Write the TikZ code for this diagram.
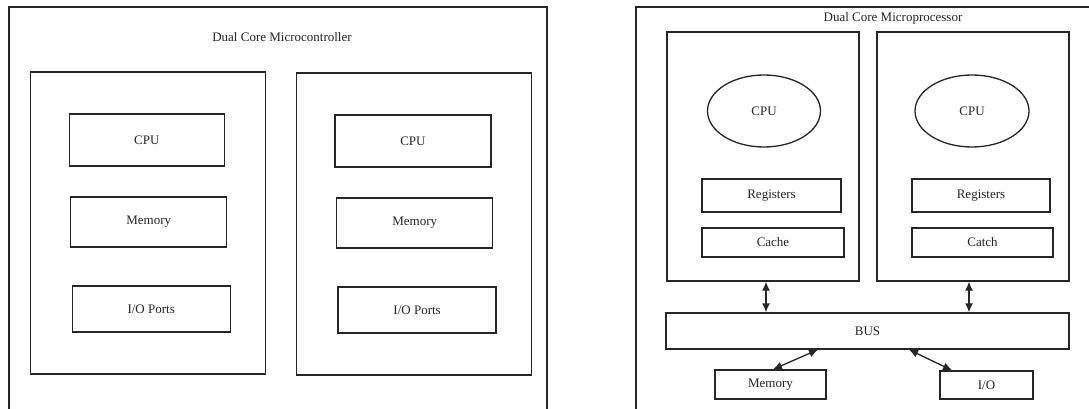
\documentclass[tikz,border=0pt]{standalone}
\usepackage{fontspec}
\setmainfont{Liberation Serif}
\usetikzlibrary{shapes.geometric,arrows.meta,calc}
\tikzset{
  ln/.style={draw=black!85, line width=1.3pt},
  box/.style={ln, rectangle, inner sep=0pt, font=\fontsize{13}{15}\selectfont, text=black!85},
  oval/.style={ln, ellipse, inner sep=0pt, font=\fontsize{13}{15}\selectfont, text=black!85},
  lbl/.style={inner sep=0pt, font=\fontsize{13}{15}\selectfont, text=black!85},
  arr/.style={ln, {Latex[length=9pt,width=8pt]}-{Latex[length=9pt,width=8pt]}},
}
\begin{document}
\begin{tikzpicture}[x=1pt,y=-1pt]
\useasboundingbox (0,0) rectangle (1089,409);
\fill[white] (0,0) rectangle (1089,409);
\clip (0,0) rectangle (1089,409);
% ---------- Left: Dual Core Microcontroller ----------
\node[box, minimum width=538pt, minimum height=420pt] (outerL) at (278,217) {};
\node[lbl] (titleL) at (282,37) {Dual Core Microcontroller};
\node[box, minimum width=235pt, minimum height=302pt] (coreL1) at (148,223) {};
\node[box, minimum width=235pt, minimum height=302pt] (coreL2) at (414.3,224) {};
\node[box, minimum width=155pt, minimum height=52pt] (cpuL1) at (146.8,140) {CPU};
\node[box, minimum width=156pt, minimum height=52pt] (cpuL2) at (412.9,141) {CPU};
\node[box, minimum width=156pt, minimum height=50pt] (memL1) at (148.7,222) {Memory};
\node[box, minimum width=156pt, minimum height=50pt] (memL2) at (414.7,223) {Memory};
\node[box, minimum width=158pt, minimum height=46pt] (ioL1) at (151.2,309) {I/O Ports};
\node[box, minimum width=158pt, minimum height=46pt] (ioL2) at (417.1,310) {I/O Ports};
% ---------- Right: Dual Core Microprocessor ----------
\node[box, minimum width=456pt, minimum height=420pt] (outerR) at (864,217) {};
\node[lbl] (titleR) at (893,18) {Dual Core Microprocessor};
\node[box, minimum width=192pt, minimum height=249pt] (coreA) at (763,156.5) {};
\node[box, minimum width=192pt, minimum height=249pt] (coreB) at (973,156.5) {};
\node[oval, minimum width=113pt, minimum height=72pt] (cpuA) at (764,111) {CPU};
\node[oval, minimum width=114pt, minimum height=72pt] (cpuB) at (972,111) {CPU};
\node[box, minimum width=139pt, minimum height=33pt] (regA) at (771.5,195.5) {Registers};
\node[box, minimum width=138pt, minimum height=33pt] (regB) at (981,195.5) {Registers};
\node[box, minimum width=142pt, minimum height=29pt] (cacheA) at (773,242.5) {Cache};
\node[box, minimum width=141pt, minimum height=29pt] (cacheB) at (982.5,242.5) {Catch};
\node[box, minimum width=403pt, minimum height=36pt] (bus) at (867.5,331) {BUS};
\node[box, minimum width=111pt, minimum height=29pt] (mem) at (770.5,384.5) {Memory};
\node[box, minimum width=93pt, minimum height=28pt] (io) at (986.5,385) {I/O};
% ---------- Connectors ----------
\draw[arr] ($(coreA.south)+(3,0)$) -- ($(coreA.south |- bus.north)+(3,0)$);
\draw[arr] ($(coreB.south)+(-4,0)$) -- ($(coreB.south |- bus.north)+(-4,0)$);
\draw[arr] ($(mem.north)+(2.5,0)$) -- ($(bus.south)+(-49.5,0)$);
\draw[arr] ($(io.north)+(-34.5,0)$) -- ($(bus.south)+(41.5,0)$);
\end{tikzpicture}
\end{document}
